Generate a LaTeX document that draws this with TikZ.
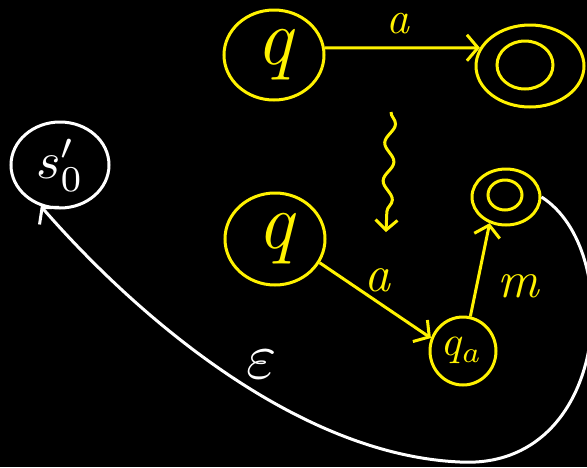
\documentclass[tikz,border=0pt]{standalone}
\usepackage{graphicx}
\usetikzlibrary{shapes.geometric,arrows.meta,decorations.pathmorphing}
\begin{document}
\begin{tikzpicture}[x=1pt,y=-1pt,
  yl/.style={draw=yellow,line width=3pt},
  wl/.style={draw=white,line width=3pt},
  st/.style={ellipse,line width=3pt,inner sep=0pt},
  lbl/.style={font=\fontsize{80}{90}\selectfont\itshape},
  slbl/.style={font=\fontsize{52}{60}\selectfont\itshape},
  arr/.style={-{Straight Barb[length=11pt,width=26pt,line width=3pt]},line width=3pt}]
\fill[black] (0,0) rectangle (587,467);
\useasboundingbox (0,0) rectangle (587,467);
% top row
\node[st,yl,minimum width=100pt,minimum height=90pt,text=yellow,lbl] (q1) at (274,55) {q};
\node[st,yl,minimum width=108pt,minimum height=82pt] (f1) at (530,66) {};
\node[st,yl,minimum width=56pt,minimum height=48pt] (f1in) at (525,65) {};
\draw[arr,yellow] (q1.8) -- (f1.160);
\node[text=yellow,font=\fontsize{46}{52}\selectfont\itshape,inner sep=1pt] (la1) at (398,24) {a};
% squiggly implication arrow
\coordinate (sqt) at (391,112);
\coordinate (sqb) at (386,232);
\draw[yellow,line width=3pt,decorate,decoration={snake,amplitude=5pt,segment length=38pt,post length=14pt},-{Straight Barb[length=10pt,width=22pt,line width=3pt]}] (sqt) -- (sqb);
% bottom construction
\node[st,yl,minimum width=100pt,minimum height=92pt,text=yellow,lbl] (q2) at (275,239) {q};
\node[st,yl,minimum width=66pt,minimum height=68pt,text=yellow] (qa) at (463,351) {\scalebox{4.2}{$q_a$}};
\node[st,yl,minimum width=68pt,minimum height=56pt] (f2) at (506,197) {};
\node[st,yl,minimum width=34pt,minimum height=30pt] (f2in) at (505,195) {};
\draw[arr,yellow] (q2.-28) -- (qa.158);
\node[text=yellow,slbl] (la2) at (377,280) {a};
\draw[arr,yellow] (qa.78) -- (f2.-122);
\node[text=yellow,slbl] (lm) at (518,286) {m};
% white part
\node[st,wl,minimum width=98pt,minimum height=86pt,text=white] (s0) at (60,165) {\scalebox{5.2}{$s'_0$}};
\draw[arr,white] (f2.east) .. controls (625,250) and (610,470) .. (460,462)
   .. controls (300,455) and (140,320) .. (s0.-115);
\node[text=white] (leps) at (262,364) {\scalebox{6.5}{$\varepsilon$}};
\end{tikzpicture}
\end{document}
